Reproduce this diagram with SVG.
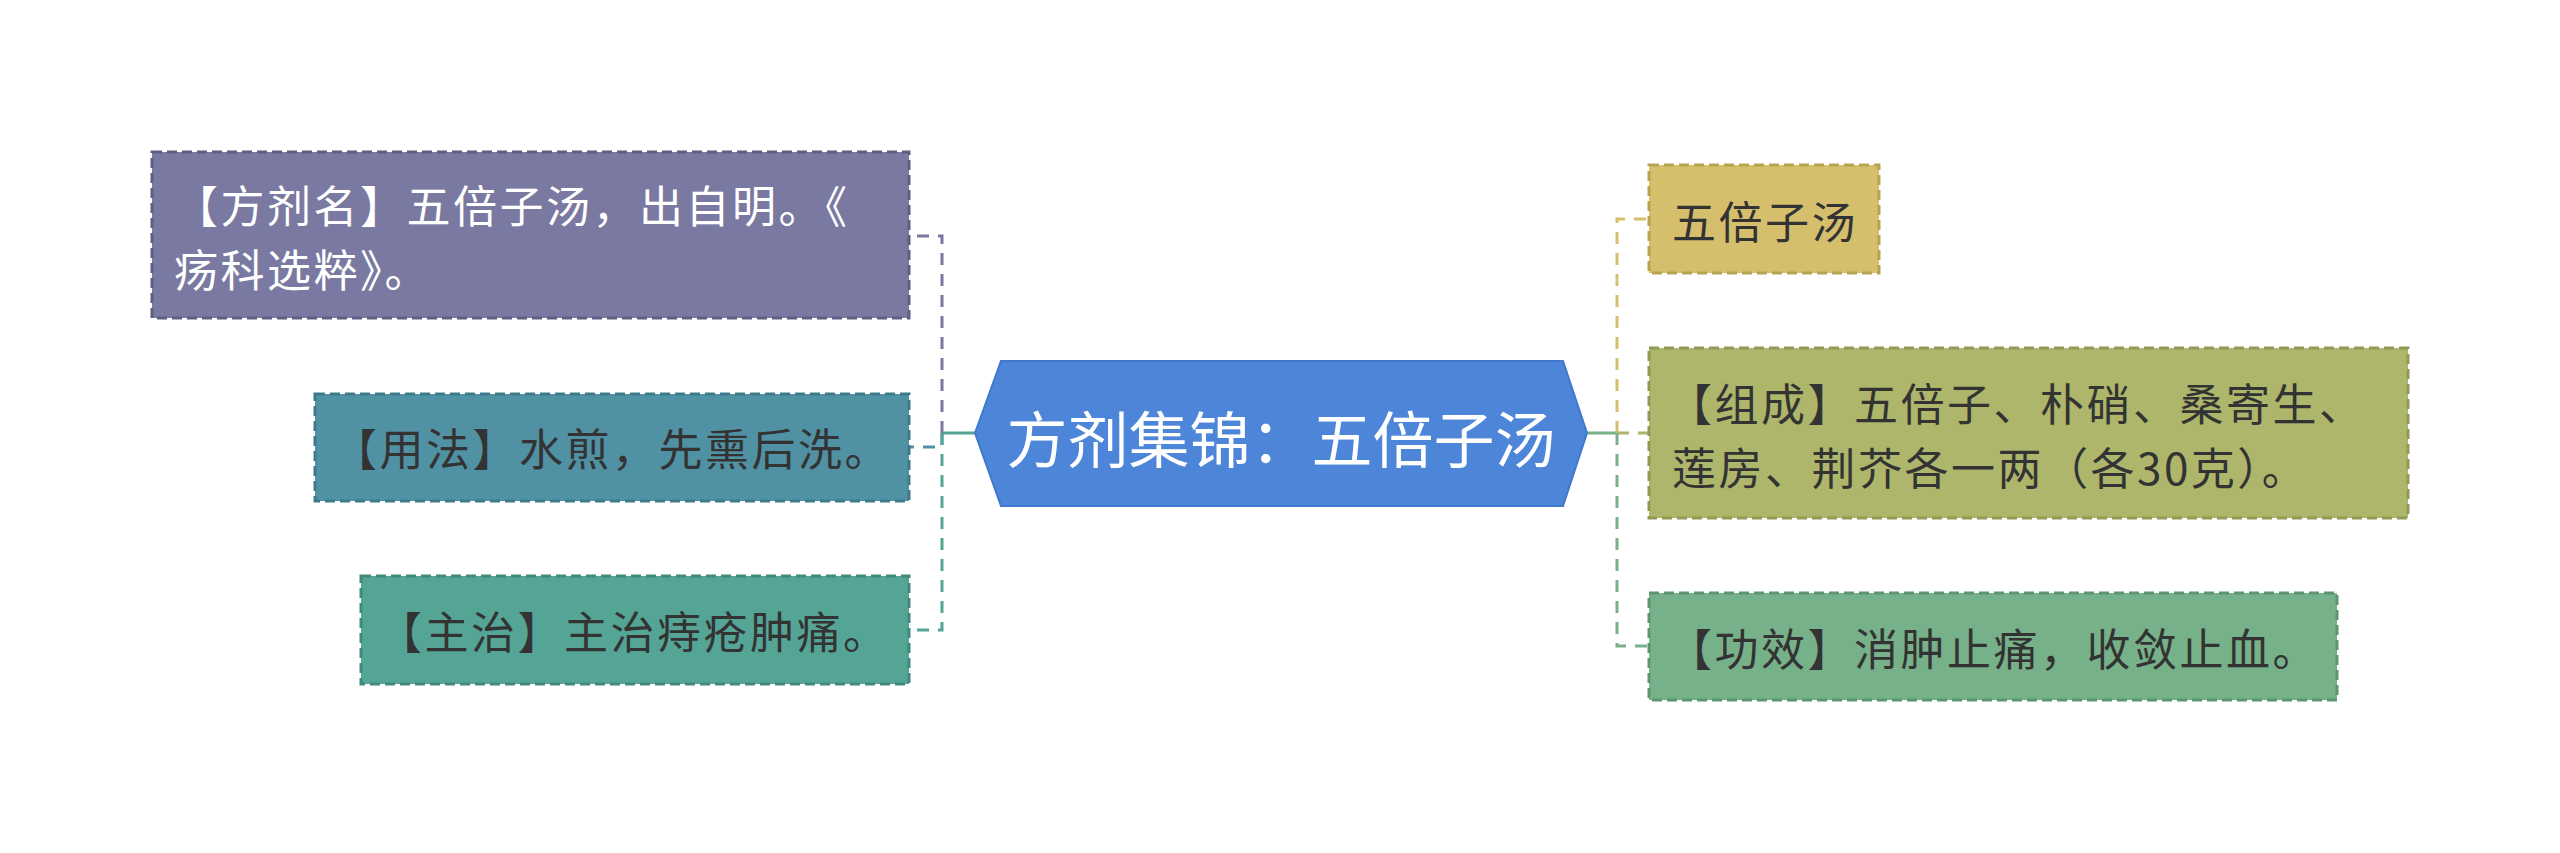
<svg xmlns="http://www.w3.org/2000/svg" width="2560" height="853" viewBox="0 0 2560 853">
<style>
text{font-family:"Noto Sans CJK SC","Noto Sans",sans-serif;dominant-baseline:central}
.t{font-size:44px;letter-spacing:2.5px;fill:#333333}
.w{fill:#ffffff}
.box{stroke-width:3;stroke-dasharray:10 5}
.c{fill:none;stroke-width:3;stroke-dasharray:12 9}
.s{fill:none;stroke-width:3}
</style>
<rect width="2560" height="853" fill="#ffffff"/>
<g id="connectors">
<path class="s" d="M975 433H942" stroke="#55a597"/>
<path class="c" d="M942 433V236H909" stroke="#7a79a1"/>
<path class="c" d="M942 433V447H909" stroke="#5191a4"/>
<path class="c" d="M942 433V630H909" stroke="#55a597"/>
<path class="s" d="M1587 433H1617" stroke="#77b18a"/>
<path class="c" d="M1617 433V219H1649" stroke="#d5bf6c"/>
<path class="c" d="M1617 433H1649" stroke="#adb66b"/>
<path class="c" d="M1617 433V646H1649" stroke="#77b18a"/>
</g>
<g id="center">
<polygon points="975,433 1001,361 1563,361 1587,433 1563,506 1001,506" fill="#4d86d9" stroke="#3f78cc" stroke-width="2"/>
<text x="1281" y="436" font-size="61" text-anchor="middle" class="w">方剂集锦：五倍子汤</text>
</g>
<g id="node-fangjiming">
<rect class="box" x="152" y="152" width="757" height="166" fill="#7a79a1" stroke="#5f5e85"/>
<text class="t w"><tspan x="174" y="204">【方剂名】五倍子汤，出自明。《</tspan><tspan x="174" y="268">疡科选粹》。</tspan></text>
</g>
<g id="node-yongfa">
<rect class="box" x="315" y="394" width="594" height="107" fill="#5191a4" stroke="#3e7a8c"/>
<text class="t" x="333" y="447">【用法】水煎，先熏后洗。</text>
</g>
<g id="node-zhuzhi">
<rect class="box" x="361" y="576" width="548" height="108" fill="#55a597" stroke="#40897c"/>
<text class="t" x="378" y="630">【主治】主治痔疮肿痛。</text>
</g>
<g id="node-wubeizitang">
<rect class="box" x="1649" y="165" width="230" height="108" fill="#d5bf6c" stroke="#b9a352"/>
<text class="t" x="1672" y="220">五倍子汤</text>
</g>
<g id="node-zucheng">
<rect class="box" x="1649" y="348" width="759" height="170" fill="#adb66b" stroke="#919a52"/>
<text class="t"><tspan x="1668" y="402">【组成】五倍子、朴硝、桑寄生、</tspan><tspan x="1672" y="466">莲房、荆芥各一两（各30克）。</tspan></text>
</g>
<g id="node-gongxiao">
<rect class="box" x="1649" y="593" width="688" height="107" fill="#77b18a" stroke="#5c9670"/>
<text class="t" x="1668" y="647">【功效】消肿止痛，收敛止血。</text>
</g>
</svg>
